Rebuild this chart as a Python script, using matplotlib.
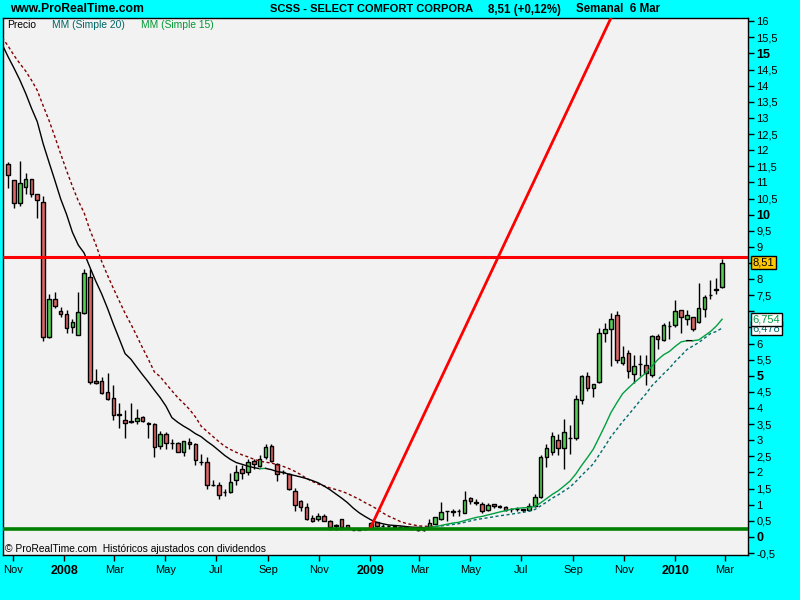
import numpy as np
import pandas as pd
import matplotlib
matplotlib.use("Agg")
import matplotlib.pyplot as plt
import matplotlib.dates as mdates
from matplotlib.patches import Rectangle
import matplotlib.transforms as mtransforms

plt.rcParams['font.family'] = ['Liberation Sans', 'DejaVu Sans']

# ---------------- data (weekly candles) ----------------
first_week = "2007-10-26"
opens = [11.56, 11.06, 10.35, 10.85, 11.09, 10.63, 10.38, 6.19, 7.37, 7.00,
         6.92, 6.50, 6.26, 6.96, 8.06, 4.84, 4.84, 4.50, 4.31, 3.80,
         3.63, 3.59, 3.59, 3.71, 3.52, 3.50, 2.81, 3.19, 2.91, 2.91,
         2.63, 2.94, 2.88, 2.34, 2.33, 1.62, 1.60, 1.39, 1.39, 1.76,
         2.11, 2.02, 2.36, 2.21, 2.49, 2.82, 2.25, 2.00, 1.95, 1.43,
         1.12, 0.92, 0.58, 0.55, 0.64, 0.51, 0.35, 0.55, 0.36, 0.23,
         0.23, 0.25, 0.27, 0.46, 0.35, 0.35, 0.33, 0.31, 0.30, 0.28,
         0.23, 0.23, 0.32, 0.41, 0.57, 0.79, 0.79, 0.80, 0.75, 1.20,
         1.07, 1.02, 0.84, 1.02, 0.95, 0.92, 0.86, 0.87, 0.86, 0.84,
         0.96, 1.23, 2.49, 2.63, 3.00, 2.75, 3.07, 3.06, 4.24, 4.98,
         4.63, 4.80, 6.32, 6.44, 6.88, 5.39, 5.71, 5.06, 5.36, 5.33,
         5.01, 6.23, 6.10, 6.53, 6.57, 7.03, 6.75, 6.81, 6.67, 7.06,
         7.50, 7.66, 7.76]
highs = [11.63, 11.08, 11.66, 11.28, 11.10, 10.65, 10.58, 7.54, 7.60, 7.14,
         7.04, 6.75, 7.60, 8.30, 8.30, 5.21, 4.96, 5.09, 4.71, 4.17,
         3.94, 4.17, 3.97, 3.75, 3.57, 3.52, 3.28, 3.27, 3.04, 2.95,
         2.98, 3.07, 2.90, 2.57, 2.47, 1.77, 1.70, 1.48, 1.99, 2.23,
         2.22, 2.41, 2.43, 2.53, 2.88, 2.88, 2.28, 2.08, 1.97, 1.52,
         1.14, 1.04, 0.68, 0.73, 0.72, 0.52, 0.39, 0.57, 0.37, 0.25,
         0.25, 0.27, 0.47, 0.47, 0.40, 0.37, 0.35, 0.33, 0.31, 0.29,
         0.24, 0.24, 0.55, 0.62, 1.08, 0.82, 0.86, 0.86, 1.43, 1.25,
         1.17, 1.08, 1.06, 1.03, 1.00, 0.96, 0.90, 0.94, 0.88, 1.04,
         1.33, 2.53, 2.88, 3.26, 3.19, 3.66, 3.47, 4.40, 5.02, 5.12,
         4.76, 6.48, 6.65, 6.94, 7.01, 5.92, 5.80, 5.65, 5.65, 5.65,
         6.25, 6.31, 6.63, 6.71, 7.35, 7.04, 7.04, 6.83, 7.89, 7.51,
         7.97, 8.02, 8.62]
lows = [10.82, 10.19, 10.28, 10.65, 10.54, 9.90, 6.09, 6.17, 7.11, 6.83,
        6.32, 6.33, 6.25, 6.93, 4.76, 4.74, 4.44, 4.25, 3.63, 3.38,
        3.08, 3.55, 3.51, 3.58, 3.08, 2.47, 2.74, 2.74, 2.72, 2.62,
        2.52, 2.72, 2.24, 2.23, 1.48, 1.58, 1.17, 1.28, 1.36, 1.60,
        1.80, 1.91, 2.11, 2.18, 2.41, 2.33, 1.75, 1.95, 1.46, 0.80,
        0.80, 0.53, 0.46, 0.51, 0.49, 0.22, 0.22, 0.28, 0.26, 0.21,
        0.21, 0.22, 0.26, 0.30, 0.30, 0.32, 0.30, 0.28, 0.27, 0.24,
        0.20, 0.20, 0.30, 0.40, 0.53, 0.51, 0.66, 0.66, 0.73, 1.01,
        0.99, 0.75, 0.80, 0.90, 0.91, 0.80, 0.76, 0.80, 0.78, 0.81,
        0.94, 1.21, 2.16, 2.55, 2.55, 2.12, 2.58, 3.01, 4.12, 4.54,
        4.35, 4.78, 6.06, 5.31, 5.39, 5.35, 4.94, 4.79, 5.00, 4.72,
        4.95, 5.84, 6.08, 6.15, 6.52, 6.34, 6.58, 6.40, 6.63, 6.83,
        7.37, 7.53, 7.73]
closes = [11.23, 10.35, 10.98, 11.09, 10.63, 10.44, 6.21, 7.37, 7.16, 6.91,
          6.47, 6.66, 6.97, 8.18, 4.80, 4.77, 4.46, 4.27, 3.77, 3.79,
          3.53, 3.58, 3.68, 3.59, 3.50, 2.78, 3.19, 2.91, 2.90, 2.65,
          2.97, 2.88, 2.38, 2.32, 1.60, 1.60, 1.31, 1.40, 1.70, 2.01,
          1.97, 2.33, 2.25, 2.41, 2.78, 2.37, 1.95, 2.01, 1.50, 0.98,
          0.93, 0.55, 0.49, 0.64, 0.51, 0.30, 0.36, 0.30, 0.28, 0.22,
          0.22, 0.24, 0.44, 0.34, 0.34, 0.35, 0.32, 0.30, 0.29, 0.25,
          0.22, 0.22, 0.44, 0.61, 0.77, 0.80, 0.78, 0.79, 1.14, 1.10,
          1.06, 0.80, 0.99, 0.96, 0.94, 0.83, 0.87, 0.88, 0.85, 0.95,
          1.25, 2.47, 2.75, 3.13, 2.77, 3.25, 3.08, 4.28, 4.98, 4.63,
          4.74, 6.32, 6.45, 6.76, 5.49, 5.57, 5.14, 5.29, 5.37, 5.08,
          6.23, 6.13, 6.58, 6.54, 7.01, 6.81, 6.90, 6.44, 7.09, 7.43,
          7.51, 7.68, 8.51]
# weekly closes before the first visible week (needed by the moving averages)
prior_closes = [16.3, 16.2, 16.0, 15.8, 16.3, 16.9, 15.6, 16.5, 17.3, 17.6,
                16.8, 16.4, 16.0, 15.6, 15.6, 13.6, 15.0, 12.9, 11.9, 11.5]

ma_periods = [15, 20]
support_level = 0.25
resistance_level = 8.69
trend_dates = ["2009-01-02", "2009-12-26"]
trend_values = [0.31, 20.0]

xtick_dates = ["2007-11-01", "2008-01-01", "2008-03-01", "2008-05-01", "2008-07-01",
               "2008-09-01", "2008-11-01", "2009-01-01", "2009-03-01", "2009-05-01",
               "2009-07-01", "2009-09-01", "2009-11-01", "2010-01-01", "2010-03-01"]
xtick_labels = ["Nov", "2008", "Mar", "May", "Jul", "Sep", "Nov", "2009", "Mar",
                "May", "Jul", "Sep", "Nov", "2010", "Mar"]
ytick_values = np.arange(-0.5, 16.01, 0.5)
hidden_ylabels = [6.5, 7.0, 8.5]   # covered by the value boxes in the original

# ---------------- styling ----------------
CYAN = "#00ffff"
PANEL = "#f2f2f2"
UP = "#55d055"
DOWN = "#dd6666"
MA15_UP, MA15_DN = "#00a040", "#000000"
MA20_UP, MA20_DN = "#006a6a", "#800000"

fig = plt.figure(figsize=(8, 6), dpi=100, facecolor=CYAN)
ax = fig.add_axes([3 / 800, 45 / 600, 745 / 800, 537 / 600])
ax.set_facecolor(PANEL)
for s in ax.spines.values():
    s.set_color("black")
    s.set_linewidth(1)

weeks = pd.date_range(first_week, periods=len(closes), freq="7D")
x = mdates.date2num(weeks)
body_w = 4.3

for xi, o, h, l, c in zip(x, opens, highs, lows, closes):
    ax.vlines(xi, l, h, color="black", lw=1, zorder=3)
    fc = UP if c > o else (DOWN if c < o else "black")
    lo = min(o, c)
    ht = max(abs(c - o), 0.004)
    ax.add_patch(Rectangle((xi - body_w / 2, lo), body_w, ht, facecolor=fc,
                           edgecolor="black", lw=1, zorder=4))

# moving averages (computed from closes), coloured by direction
all_closes = pd.Series(prior_closes + closes)
all_weeks = pd.date_range(end=weeks[-1], periods=len(all_closes), freq="7D")
ax_all = mdates.date2num(all_weeks)


def draw_ma(vals, up, dn, ls):
    vals = np.asarray(vals)
    n = len(vals)
    run_x, run_y, run_c = [], [], None
    for k in range(1, n):
        if np.isnan(vals[k - 1]) or np.isnan(vals[k]):
            continue
        col = up if vals[k] > vals[k - 1] else dn
        if col != run_c:
            if run_x:
                ax.plot(run_x, run_y, color=run_c, lw=1, ls=ls, zorder=5)
            run_x, run_y, run_c = [ax_all[k - 1]], [vals[k - 1]], col
        run_x.append(ax_all[k])
        run_y.append(vals[k])
    if run_x:
        ax.plot(run_x, run_y, color=run_c, lw=1, ls=ls, zorder=5)


ma15 = all_closes.rolling(ma_periods[0]).mean().values
ma20 = all_closes.rolling(ma_periods[1]).mean().values
draw_ma(ma20, MA20_UP, MA20_DN, (0, (2.2, 1.8)))
draw_ma(ma15, MA15_UP, MA15_DN, "-")

ax.axhline(resistance_level, color="#ff0000", lw=2.2, zorder=6)
ax.axhline(support_level, color="#008000", lw=2.6, zorder=6)
ax.plot(mdates.date2num(pd.to_datetime(trend_dates)), trend_values,
        color="#ff0000", lw=2, zorder=6)

ax.set_xlim(mdates.date2num(pd.Timestamp("2007-10-20")),
            mdates.date2num(pd.Timestamp("2010-03-29")))
ax.set_ylim(-0.56, 16.1)

# y axis on the right
ax.yaxis.tick_right()
ax.set_yticks(ytick_values)
ylabels = []
for v in ytick_values:
    if any(abs(v - h) < 1e-9 for h in hidden_ylabels):
        ylabels.append("")
    else:
        ylabels.append(("%g" % v).replace(".", ","))
ax.set_yticklabels(ylabels)
ax.tick_params(axis="y", direction="out", length=4, width=1, pad=2,
               labelsize=8, colors="black")
for v, t in zip(ytick_values, ax.get_yticklabels()):
    if v in (0, 5, 10, 15):
        t.set_fontweight("bold")
        t.set_fontsize(9)

ax.set_xticks(mdates.date2num(pd.to_datetime(xtick_dates)))
ax.set_xticklabels(xtick_labels)
ax.tick_params(axis="x", direction="out", length=4, width=1, pad=3,
               labelsize=8, colors="black")
for t in ax.get_xticklabels():
    if t.get_text().isdigit():
        t.set_fontweight("bold")
        t.set_fontsize(9)

# value boxes on the right axis
trans = mtransforms.blended_transform_factory(ax.transAxes, ax.transData)
ax.text(1.006, ma20[-1], ("%.3f" % ma20[-1]).replace(".", ","), transform=trans,
        fontsize=8, color=MA20_UP, va="center", ha="left", zorder=10, clip_on=False,
        bbox=dict(boxstyle="square,pad=0.15", fc="white", ec="black", lw=1))
ax.text(1.006, ma15[-1], ("%.3f" % ma15[-1]).replace(".", ","), transform=trans,
        fontsize=8, color=MA15_UP, va="center", ha="left", zorder=11, clip_on=False,
        bbox=dict(boxstyle="square,pad=0.15", fc="white", ec="black", lw=1))
ax.text(1.006, closes[-1], ("%.2f" % closes[-1]).replace(".", ","), transform=trans,
        fontsize=8, color="black", va="center", ha="left", zorder=12, clip_on=False,
        bbox=dict(boxstyle="square,pad=0.15", fc="#ffc800", ec="black", lw=1))

# header texts
def ftext(px, py, s, **kw):
    fig.text(px / 800, 1 - py / 600, s, va="center", ha="left", **kw)

ftext(10, 9.5, "www.ProRealTime.com", fontsize=8.7, fontweight="bold")
ftext(270, 9.5, "SCSS - SELECT COMFORT CORPORA", fontsize=8.0, fontweight="bold")
ftext(488, 9.5, "8,51 (+0,12%)", fontsize=8.3, fontweight="bold")
ftext(576, 9.5, "Semanal  6 Mar", fontsize=8.3, fontweight="bold")
ftext(7, 24.5, "Precio", fontsize=7.4, color="black")
ftext(52, 24.5, "MM (Simple 20)", fontsize=7.4, color="#006666")
ftext(141, 24.5, "MM (Simple 15)", fontsize=7.4, color="#009933")
ftext(5, 549, "\u00a9 ProRealTime.com  Hist\u00f3ricos ajustados con dividendos",
      fontsize=7.4, color="black")

fig.savefig("out.png", dpi=100, facecolor=CYAN)
